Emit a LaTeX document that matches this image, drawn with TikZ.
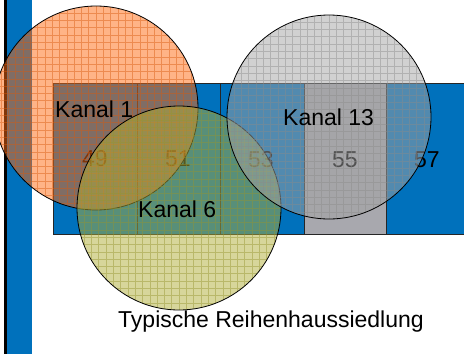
\documentclass[tikz,border=0pt]{standalone}
\usepackage{fontspec}
\setmainfont{Liberation Sans}
\definecolor{houseblue}{HTML}{0071BC}
\definecolor{housegrey}{HTML}{A8A8AE}
\definecolor{chorange}{HTML}{FF6A10}
\definecolor{chgrey}{HTML}{A4A4A4}
\definecolor{cholive}{HTML}{B0AE38}
\begin{document}
\begin{tikzpicture}[x=1pt,y=-1pt,
  house/.style={draw=black!85, line width=0.8pt},
  lbl/.style={font=\fontsize{23}{27}\selectfont, text=black, inner sep=0pt},
  channel/.style={circle, draw=black, line width=0.8pt, fill=#1, fill opacity=0.5,
    minimum size=204pt, inner sep=0pt,
    path picture={\draw[#1!85!black, line width=0.5pt, opacity=0.45, step=7.3pt]
      (path picture bounding box.south west) grid (path picture bounding box.north east);}}]
\useasboundingbox (0,0) rectangle (464,354);
\clip (0,0) rectangle (464,354);
\fill[white] (0,0) rectangle (464,354);

% left edge: black rule and blue bar
\fill[black] (4,0) rectangle (6.5,354);
\fill[houseblue] (6.5,0) rectangle (32,354);

% row of terraced houses
\draw[house, fill=houseblue] (53,83) rectangle (472,234);
\draw[house, fill=housegrey] (304,83) rectangle (386,234);
\draw[house] (137,83) -- (137,234);
\draw[house] (220,83) -- (220,234);

% house numbers
\node[lbl, anchor=base] (n49) at (95,166) {49};
\node[lbl, anchor=base] (n51) at (178,166) {51};
\node[lbl, anchor=base] (n53) at (261,167) {53};
\node[lbl, anchor=base] (n55) at (345,167) {55};
\node[lbl, anchor=base] (n57) at (427,167) {57};

% channel coverage areas
\node[channel=chorange] (c1) at (96,108) {};
\node[channel=cholive] (c6) at (179,208) {};
\node[channel=chgrey] (c13) at (329,117) {};

% channel labels
\node[lbl, anchor=base west] (k1) at (55,117) {Kanal 1};
\node[lbl, anchor=base west] (k13) at (283,125) {Kanal 13};
\node[lbl, anchor=base west] (k6) at (138,217) {Kanal 6};

% caption
\node[lbl, anchor=base] (cap) at (271,327) {Typische Reihenhaussiedlung};
\end{tikzpicture}
\end{document}
